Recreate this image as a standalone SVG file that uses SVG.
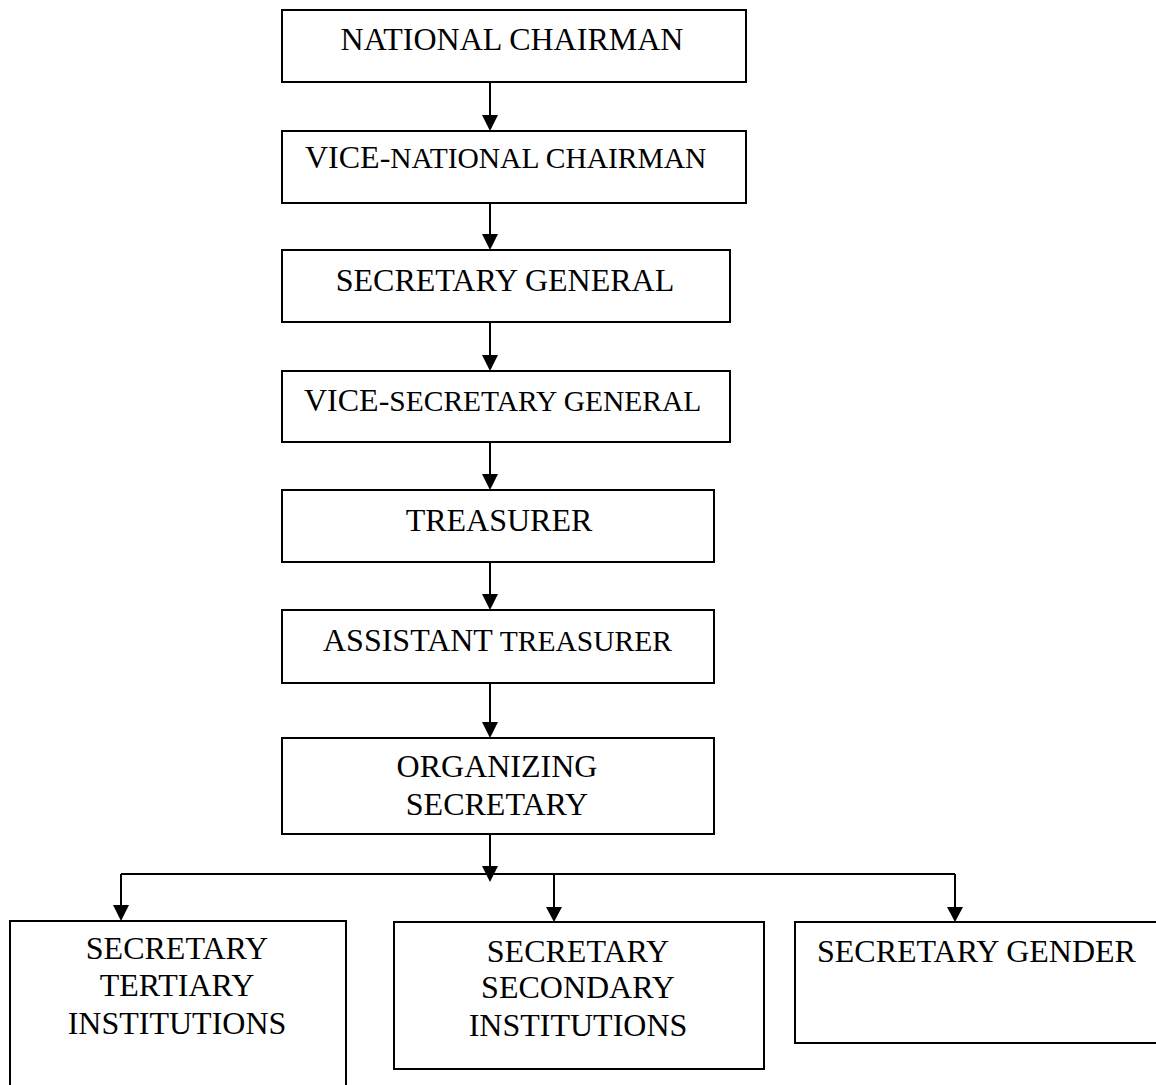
<svg xmlns="http://www.w3.org/2000/svg" width="1156" height="1085" viewBox="0 0 1156 1085">
<style>
.box{fill:#fff;stroke:#000;stroke-width:2}
.lbl{font-family:"Liberation Serif","Times New Roman",serif;font-size:32px;fill:#000}
.mid{text-anchor:middle}
.sm{font-size:29.5px}
.con{stroke:#000;stroke-width:2;fill:none}
.head{fill:#000}
</style>
<rect width="1156" height="1085" fill="#fff"/>
<g id="connectors">
<path class="con" d="M490,83 V116"/>
<polygon class="head" points="482,115 498,115 490,131"/>
<path class="con" d="M490,203 V235"/>
<polygon class="head" points="482,234 498,234 490,250"/>
<path class="con" d="M490,322 V356"/>
<polygon class="head" points="482,355 498,355 490,371"/>
<path class="con" d="M490,442 V475"/>
<polygon class="head" points="482,474 498,474 490,490"/>
<path class="con" d="M490,562 V595"/>
<polygon class="head" points="482,594 498,594 490,610"/>
<path class="con" d="M490,674 V723"/>
<polygon class="head" points="482,722 498,722 490,738"/>
<path class="con" d="M490,834 V867"/>
<polygon class="head" points="482,866 498,866 490,882"/>
<path class="con" d="M121,874 H955"/>
<path class="con" d="M121,874 V906"/>
<polygon class="head" points="113,905 129,905 121,921"/>
<path class="con" d="M554,874 V908"/>
<polygon class="head" points="546,907 562,907 554,922"/>
<path class="con" d="M955,874 V908"/>
<polygon class="head" points="947,907 963,907 955,922"/>
</g>
<g id="national-chairman">
<rect class="box" x="282" y="10" width="464" height="72"/>
<text class="lbl mid" x="512" y="50">NATIONAL CHAIRMAN</text>
</g>
<g id="vice-national-chairman">
<rect class="box" x="282" y="131" width="464" height="72"/>
<text class="lbl" x="305" y="168">VICE-<tspan class="sm">NATIONAL CHAIRMAN</tspan></text>
</g>
<g id="secretary-general">
<rect class="box" x="282" y="250" width="448" height="72"/>
<text class="lbl mid" x="505" y="291">SECRETARY GENERAL</text>
</g>
<g id="vice-secretary-general">
<rect class="box" x="282" y="371" width="448" height="71"/>
<text class="lbl" x="304" y="411">VICE-<tspan class="sm">SECRETARY GENERAL</tspan></text>
</g>
<g id="treasurer">
<rect class="box" x="282" y="490" width="432" height="72"/>
<text class="lbl mid" x="499" y="531">TREASURER</text>
</g>
<g id="assistant-treasurer">
<rect class="box" x="282" y="610" width="432" height="73"/>
<text class="lbl" x="323" y="651">ASSISTANT<tspan class="sm"> TREASURER</tspan></text>
</g>
<g id="organizing-secretary">
<rect class="box" x="282" y="738" width="432" height="96"/>
<text class="lbl mid" x="497" y="777">ORGANIZING</text>
<text class="lbl mid" x="497" y="815">SECRETARY</text>
</g>
<g id="secretary-tertiary">
<rect class="box" x="10" y="921" width="336" height="200"/>
<text class="lbl mid" x="177" y="959">SECRETARY</text>
<text class="lbl mid" x="177" y="996">TERTIARY</text>
<text class="lbl mid" x="177" y="1034">INSTITUTIONS</text>
</g>
<g id="secretary-secondary">
<rect class="box" x="394" y="922" width="370" height="147"/>
<text class="lbl mid" x="578" y="962">SECRETARY</text>
<text class="lbl mid" x="578" y="998">SECONDARY</text>
<text class="lbl mid" x="578" y="1036">INSTITUTIONS</text>
</g>
<g id="secretary-gender">
<rect class="box" x="795" y="922" width="400" height="121"/>
<text class="lbl" x="817" y="962">SECRETARY GENDER</text>
</g>
</svg>
